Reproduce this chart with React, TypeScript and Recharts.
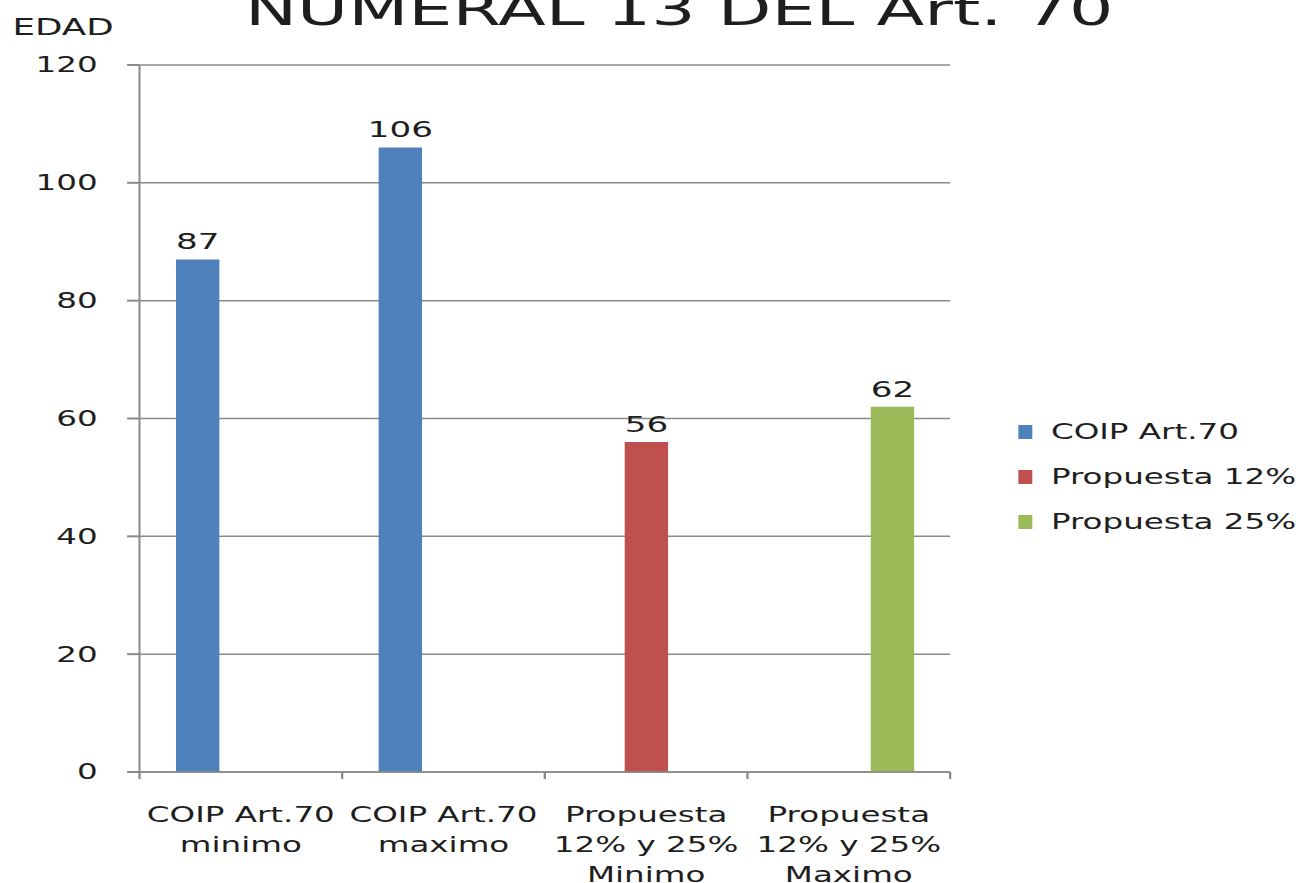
import React from "react";
import { BarChart, Bar, XAxis, YAxis, CartesianGrid, LabelList } from "recharts";

// Category labels (one line per array entry) and the three series.
const CATEGORIES = [
  ["COIP Art.70", "minimo"],
  ["COIP Art.70", "maximo"],
  ["Propuesta", "12% y 25%", "Minimo"],
  ["Propuesta", "12% y 25%", "Maximo"],
];
const COIP_ART70 = [87, 106, null, null];
const PROPUESTA_12 = [null, null, 56, null];
const PROPUESTA_25 = [null, null, null, 62];
const Y_TICKS = [0, 20, 40, 60, 80, 100, 120];

const SERIES = [
  { key: "coip", name: "COIP Art.70", color: "#4F81BD" },
  { key: "p12", name: "Propuesta 12%", color: "#C0504D" },
  { key: "p25", name: "Propuesta 25%", color: "#9BBB59" },
];

const data = CATEGORIES.map((lines, i) => ({
  name: lines.join(" "),
  coip: COIP_ART70[i],
  p12: PROPUESTA_12[i],
  p25: PROPUESTA_25[i],
}));

// the source picture is stretched sideways, so the chart is drawn narrow and widened
const STRETCH = 1.55;
const W = 846;
const H = 883;
const FONT = "'DejaVu Sans', Verdana, sans-serif";
const TEXT = "#1e1e1e";
const AXIS = "#8a8a8a";

// label lines plus Excel-style tick marks on the band edges (payload.offset = half band)
function CategoryTick({ x, y, payload, index, visibleTicksCount }: any) {
  const lines = CATEGORIES[index] ?? [String(payload.value)];
  const half = Number(payload?.offset ?? 0);
  const last = index === (visibleTicksCount ?? CATEGORIES.length) - 1;
  return (
    <g>
      <line x1={x - half} x2={x - half} y1={y} y2={y + 7} stroke={AXIS} strokeWidth={1.5} />
      {last && (
        <line x1={x + half} x2={x + half} y1={y} y2={y + 7} stroke={AXIS} strokeWidth={1.5} />
      )}
      <text x={x} y={y} textAnchor="middle" fontSize={21} fill={TEXT} fontFamily={FONT}>
        {lines.map((l, i) => (
          <tspan key={i} x={x} y={y + 50 + 30 * i}>
            {l}
          </tspan>
        ))}
      </text>
    </g>
  );
}

function ValueLabel({ x, y, width, value }: any) {
  if (value == null) return null;
  return (
    <text
      x={Number(x) + Number(width) / 2}
      y={Number(y) - 10}
      textAnchor="middle"
      fontSize={22}
      fill={TEXT}
      fontFamily={FONT}
    >
      {value}
    </text>
  );
}

export default function App() {
  return (
    <div
      style={{
        position: "absolute",
        left: 0,
        top: 0,
        width: 1312,
        height: 883,
        overflow: "hidden",
        background: "#fff",
      }}
    >
      <div
        style={{
          position: "relative",
          width: W,
          height: H,
          transform: `scaleX(${STRETCH})`,
          transformOrigin: "0 0",
          fontFamily: FONT,
          color: TEXT,
        }}
      >
        <div
          style={{
            position: "absolute",
            left: 158,
            top: -13,
            fontSize: 45,
            lineHeight: 1,
            whiteSpace: "nowrap",
          }}
        >
          NUMERAL 13 DEL Art. 70
        </div>
        <div
          style={{
            position: "absolute",
            left: 8,
            top: 16,
            fontSize: 23,
            lineHeight: 1,
            whiteSpace: "nowrap",
          }}
        >
          EDAD
        </div>

        <BarChart
          width={W}
          height={H}
          data={data}
          margin={{ top: 65, right: 233, bottom: 0, left: 0 }}
          barGap={0}
          barCategoryGap="18%"
        >
          <CartesianGrid vertical={false} stroke={AXIS} strokeWidth={1.5} />
          <XAxis
            dataKey="name"
            height={111}
            interval={0}
            axisLine={{ stroke: AXIS, strokeWidth: 1.5 }}
            tickLine={false}
            tickSize={0}
            tickMargin={0}
            tick={<CategoryTick />}
          />
          <YAxis
            domain={[0, 120]}
            ticks={Y_TICKS}
            width={90}
            tickSize={8}
            tickMargin={19}
            axisLine={{ stroke: AXIS, strokeWidth: 1.3 }}
            tickLine={{ stroke: AXIS, strokeWidth: 2 }}
            tick={{ fontSize: 21, fill: TEXT, fontFamily: FONT }}
          />
          {SERIES.map((s) => (
            <Bar
              key={s.key}
              dataKey={s.key}
              name={s.name}
              fill={s.color}
              isAnimationActive={false}
            >
              <LabelList dataKey={s.key} content={<ValueLabel />} />
            </Bar>
          ))}
        </BarChart>

        <div style={{ position: "absolute", left: 657, top: 0 }}>
          {SERIES.map((s, i) => (
            <div
              key={s.key}
              style={{
                position: "absolute",
                left: 0,
                top: 432 + 45 * i - 13,
                height: 26,
                display: "flex",
                alignItems: "center",
                whiteSpace: "nowrap",
                fontSize: 21,
              }}
            >
              <span
                style={{ display: "inline-block", width: 9, height: 14, background: s.color }}
              />
              <span style={{ marginLeft: 12 }}>{s.name}</span>
            </div>
          ))}
        </div>
      </div>
    </div>
  );
}
